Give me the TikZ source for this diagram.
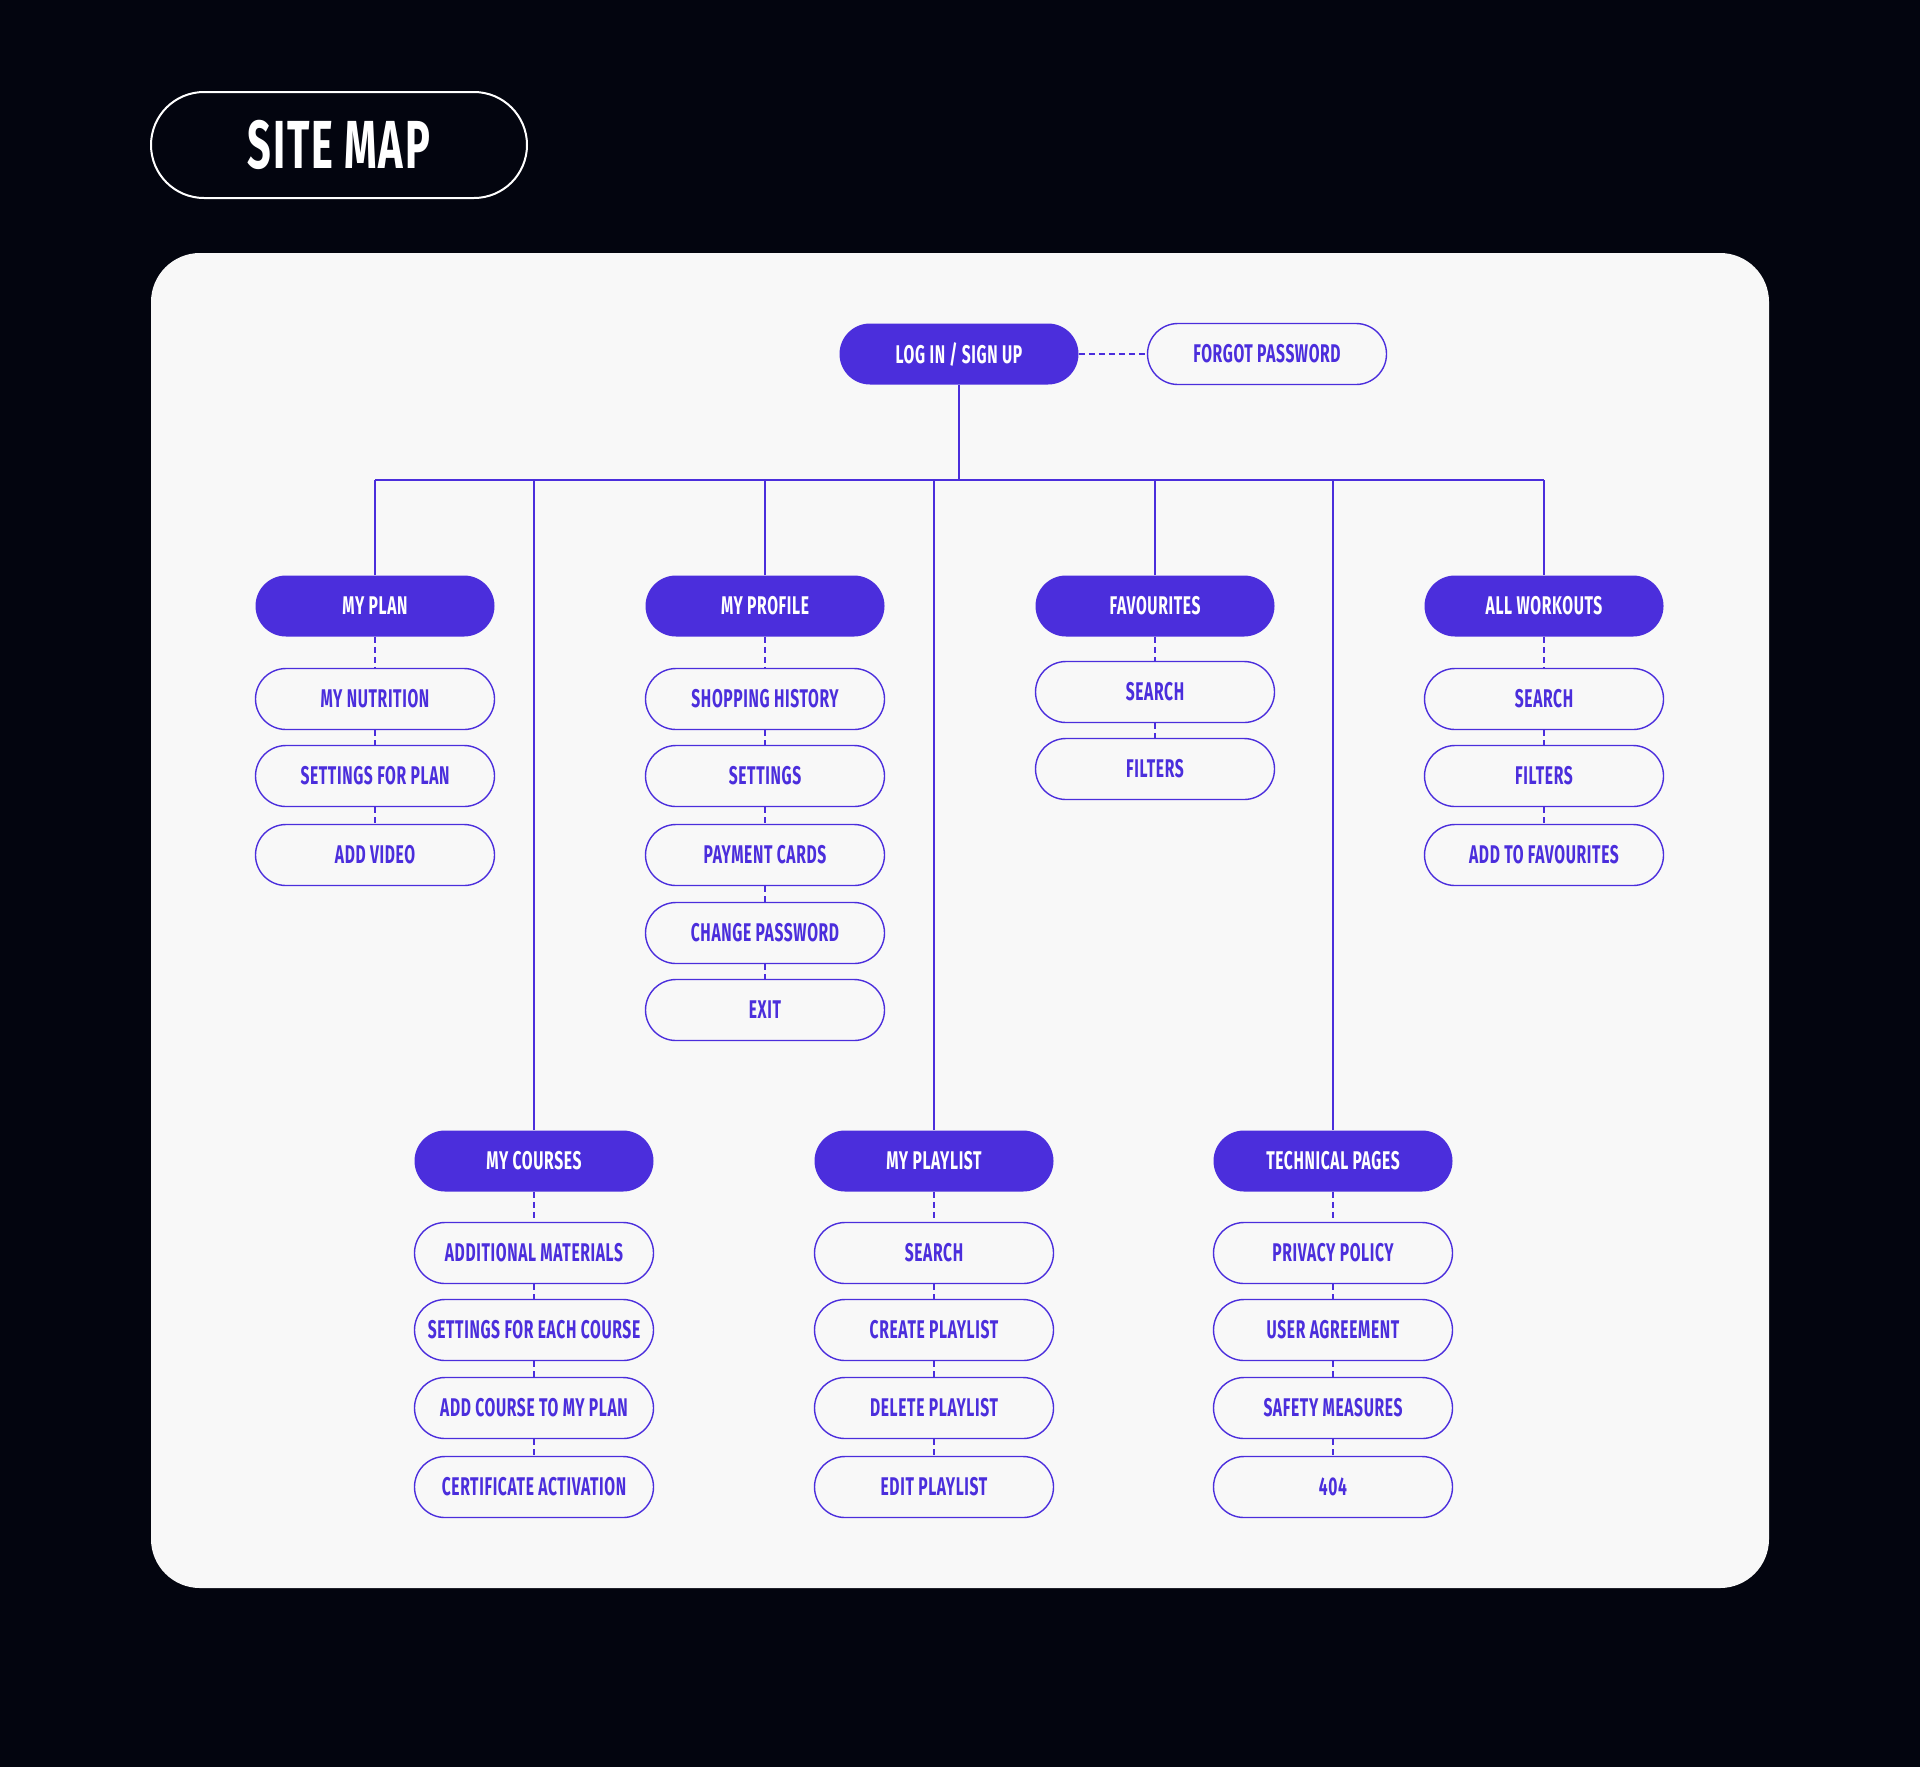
\documentclass[tikz,border=0pt]{standalone}
\usepackage{fontspec}
\setmainfont{Fira Sans}[FakeStretch=0.61, LetterSpace=2.5]
\definecolor{bg}{HTML}{03050F}
\definecolor{panel}{HTML}{F8F8F8}
\definecolor{pur}{HTML}{4B2EDC}
\begin{document}
\begin{tikzpicture}[x=0.5pt,y=-0.5pt,
  base/.style={rectangle, rounded corners=15.25pt, minimum width=119.5pt, minimum height=30.5pt, inner sep=0pt, font=\fontsize{12.8}{14}\selectfont\bfseries},
  pnode/.style={base, fill=pur, text=white},
  cnode/.style={base, draw=pur, line width=0.7pt, fill=panel, text=pur},
  bus/.style={draw=pur, line width=1pt},
  dotlink/.style={draw=pur, line width=0.9pt, dash pattern=on 3pt off 2pt}]
\useasboundingbox (0,0) rectangle (1920,1767);
\fill[bg] (0,0) rectangle (1920,1767);
\fill[panel, rounded corners=24.5pt] (151,253) rectangle (1769,1588);
\node[draw=white, line width=1pt, rounded corners=26.5pt, minimum width=188pt, minimum height=53pt, text=white, font=\fontsize{34}{37}\selectfont\bfseries] (title) at (339,145) {SITE MAP};

\node[pnode] (login) at (959,354) {LOG IN / SIGN UP};
\node[cnode] (forgot) at (1267,354) {FORGOT PASSWORD};
\draw[dotlink] (login.east) -- (forgot.west);

% top row
\node[pnode] (plan) at (375,606) {MY PLAN};
\node[cnode] (plan1) at (375,699) {MY NUTRITION};
\node[cnode] (plan2) at (375,776) {SETTINGS FOR PLAN};
\node[cnode] (plan3) at (375,855) {ADD VIDEO};

\node[pnode] (prof) at (765,606) {MY PROFILE};
\node[cnode] (prof1) at (765,699) {SHOPPING HISTORY};
\node[cnode] (prof2) at (765,776) {SETTINGS};
\node[cnode] (prof3) at (765,855) {PAYMENT CARDS};
\node[cnode] (prof4) at (765,933) {CHANGE PASSWORD};
\node[cnode] (prof5) at (765,1010) {EXIT};

\node[pnode] (fav) at (1155,606) {FAVOURITES};
\node[cnode] (fav1) at (1155,692) {SEARCH};
\node[cnode] (fav2) at (1155,769) {FILTERS};

\node[pnode] (all) at (1544,606) {ALL WORKOUTS};
\node[cnode] (all1) at (1544,699) {SEARCH};
\node[cnode] (all2) at (1544,776) {FILTERS};
\node[cnode] (all3) at (1544,855) {ADD TO FAVOURITES};

% bottom row
\node[pnode] (crs) at (534,1161) {MY COURSES};
\node[cnode] (crs1) at (534,1253) {ADDITIONAL MATERIALS};
\node[cnode] (crs2) at (534,1330) {SETTINGS FOR EACH COURSE};
\node[cnode] (crs3) at (534,1408) {ADD COURSE TO MY PLAN};
\node[cnode] (crs4) at (534,1487) {CERTIFICATE ACTIVATION};

\node[pnode] (pl) at (934,1161) {MY PLAYLIST};
\node[cnode] (pl1) at (934,1253) {SEARCH};
\node[cnode] (pl2) at (934,1330) {CREATE PLAYLIST};
\node[cnode] (pl3) at (934,1408) {DELETE PLAYLIST};
\node[cnode] (pl4) at (934,1487) {EDIT PLAYLIST};

\node[pnode] (tech) at (1333,1161) {TECHNICAL PAGES};
\node[cnode] (tech1) at (1333,1253) {PRIVACY POLICY};
\node[cnode] (tech2) at (1333,1330) {USER AGREEMENT};
\node[cnode] (tech3) at (1333,1408) {SAFETY MEASURES};
\node[cnode] (tech4) at (1333,1487) {404};

% tree
\coordinate (busL) at (375,480);
\coordinate (busR) at (1544,480);
\draw[bus] (login.south) -- (login.south |- busL);
\draw[bus] (busL) -- (busR);
\foreach \n in {plan,prof,fav,all,crs,pl,tech}
  \draw[bus] (\n.north) -- (\n.north |- busL);

% dotted chains
\foreach \a/\b in {plan/plan1,plan1/plan2,plan2/plan3,
  prof/prof1,prof1/prof2,prof2/prof3,prof3/prof4,prof4/prof5,
  fav/fav1,fav1/fav2, all/all1,all1/all2,all2/all3,
  crs/crs1,crs1/crs2,crs2/crs3,crs3/crs4,
  pl/pl1,pl1/pl2,pl2/pl3,pl3/pl4,
  tech/tech1,tech1/tech2,tech2/tech3,tech3/tech4}
  \draw[dotlink] (\a.south) -- (\b.north);
\end{tikzpicture}
\end{document}
